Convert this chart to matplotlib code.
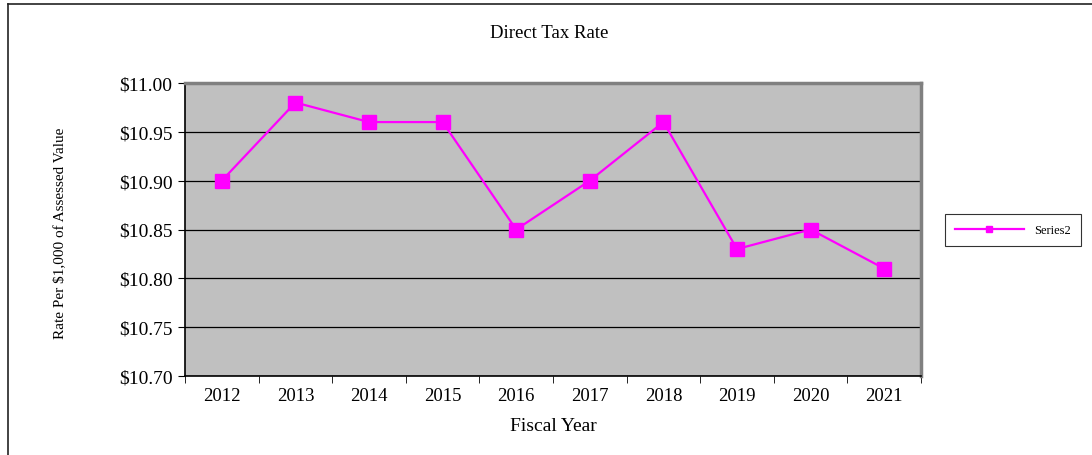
import matplotlib.pyplot as plt
from matplotlib.lines import Line2D
from matplotlib.ticker import FuncFormatter, FixedLocator, NullFormatter

years = ['2012', '2013', '2014', '2015', '2016', '2017', '2018', '2019', '2020', '2021']
rates = [10.90, 10.98, 10.96, 10.96, 10.85, 10.90, 10.96, 10.83, 10.85, 10.81]

plt.rcParams['font.family'] = 'Liberation Serif'

fig = plt.figure(figsize=(10.92, 4.56), dpi=100)
ax = fig.add_axes([185 / 1092, 1 - 377 / 456, 736 / 1092, 293 / 456])
ax.set_facecolor('#c0c0c0')

x = list(range(len(years)))
ax.plot(x, rates, color='#ff00ff', linewidth=1.6, marker='s', markersize=10,
        label='Series2', zorder=3)

ax.set_xlim(-0.5, len(years) - 0.5)
ax.set_ylim(10.70, 11.00)
ax.set_yticks([10.70, 10.75, 10.80, 10.85, 10.90, 10.95, 11.00])
ax.yaxis.set_major_formatter(FuncFormatter(lambda v, p: f'${v:.2f}'))
ax.grid(axis='y', color='black', linewidth=0.9)
ax.set_axisbelow(True)

# category labels centered, ticks between categories
ax.set_xticks(x)
ax.set_xticklabels(years)
ax.tick_params(axis='x', which='major', length=0, pad=8, labelsize=13.5)
ax.xaxis.set_minor_locator(FixedLocator([i - 0.5 for i in range(len(years) + 1)]))
ax.xaxis.set_minor_formatter(NullFormatter())
ax.tick_params(axis='x', which='minor', length=5, color='black')
ax.tick_params(axis='y', length=5, labelsize=14, pad=4)

for side in ['top', 'right']:
    ax.spines[side].set_color('#808080')
    ax.spines[side].set_linewidth(2.5)
for side in ['left', 'bottom']:
    ax.spines[side].set_color('black')
    ax.spines[side].set_linewidth(1.2)

fig.text(549 / 1092, 1 - 33 / 456, 'Direct Tax Rate', ha='center', va='center', fontsize=13.5)
ax.set_xlabel('Fiscal Year', fontsize=14, labelpad=9)
fig.text(60 / 1092, 1 - 233 / 456, 'Rate Per $1,000 of Assessed Value', rotation=90,
         ha='center', va='center', fontsize=11)

leg = ax.legend(loc='center left', bbox_to_anchor=(945 / 1092, 1 - 231 / 456),
                bbox_transform=fig.transFigure, fontsize=9, frameon=True,
                fancybox=False, edgecolor='black', markerscale=0.5,
                handlelength=5.5, borderpad=0.8, borderaxespad=0,
                handletextpad=0.8)
leg.get_frame().set_linewidth(0.8)

# outer chart border (top and left visible)
fig.add_artist(Line2D([8 / 1092, 8 / 1092], [0, 1 - 5 / 456], color='#222222', linewidth=1.2))
fig.add_artist(Line2D([8 / 1092, 1], [1 - 5 / 456, 1 - 5 / 456], color='#222222', linewidth=1.2))

fig.savefig('out.png', dpi=100)
